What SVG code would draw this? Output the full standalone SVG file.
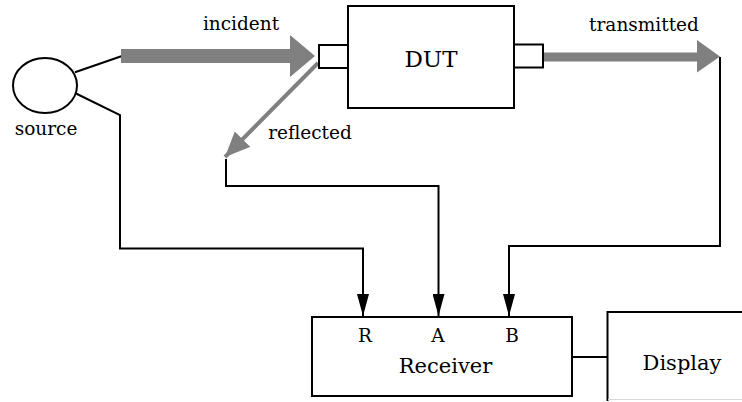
<svg xmlns="http://www.w3.org/2000/svg" width="742" height="402" viewBox="0 0 742 402">
  <style>
    .box { fill: #ffffff; stroke: #000000; stroke-width: 2; }
    .wire { fill: none; stroke: #000000; stroke-width: 2; }
    .wave { fill: #808080; stroke: none; }
    .lbl { font-family: "DejaVu Serif", "Liberation Serif", serif; fill: #000000; }
    .small { font-size: 18.5px; }
    .big { font-size: 21px; }
  </style>
  <defs>
    <marker id="tip" markerUnits="userSpaceOnUse" markerWidth="22" markerHeight="12" refX="22" refY="6" orient="auto" viewBox="0 0 22 12">
      <path d="M0,0 L22,6 L0,12 Z" fill="#000000"/>
    </marker>
    <marker id="greytip" markerUnits="userSpaceOnUse" markerWidth="26" markerHeight="22" refX="25" refY="11" orient="auto" viewBox="0 0 26 22">
      <path d="M0,0 L25,11 L0,22 Z" fill="#808080"/>
    </marker>
  </defs>

  <rect width="742" height="402" fill="#ffffff"/>

  <!-- signal paths -->
  <g id="connectors">
    <!-- source to incident wave -->
    <line class="wire" x1="75" y1="72.3" x2="122" y2="56"/>
    <!-- incident wave -->
    <path class="wave" d="M121,49 L290,49 L290,35 L315,56 L290,77 L290,63 L121,63 Z"/>
    <!-- transmitted wave -->
    <path class="wave" d="M543,52.5 L697,52.5 L697,40 L720,56.5 L697,72.5 L697,61.5 L543,61.5 Z"/>
    <!-- reflected wave -->
    <line x1="318" y1="63" x2="225" y2="157" stroke="#808080" stroke-width="4" marker-end="url(#greytip)"/>
    <!-- reference channel R -->
    <path class="wire" d="M76,93.5 L120,115 L120,248.5 L363,248.5 L363,316" marker-end="url(#tip)"/>
    <!-- reflected channel A -->
    <path class="wire" d="M226,159 L226,186 L438.5,186 L438.5,316" marker-end="url(#tip)"/>
    <!-- transmitted channel B -->
    <path class="wire" d="M720,57 L720,246 L509,246 L509,316" marker-end="url(#tip)"/>
    <!-- receiver to display -->
    <line class="wire" x1="572" y1="357" x2="607" y2="357"/>
  </g>

  <g id="source">
    <ellipse class="box" cx="45" cy="85.5" rx="32" ry="27.5"/>
    <text class="lbl small" x="46" y="135" text-anchor="middle">source</text>
  </g>

  <g id="labels">
    <text class="lbl small" x="241" y="30" text-anchor="middle">incident</text>
    <text class="lbl small" x="310" y="139" text-anchor="middle">reflected</text>
    <text class="lbl small" x="644" y="31" text-anchor="middle">transmitted</text>
  </g>

  <g id="dut">
    <rect class="box" x="348" y="6" width="166" height="102"/>
    <rect class="box" x="319" y="45" width="29" height="23"/>
    <rect class="box" x="514" y="44.5" width="29" height="23"/>
    <text class="lbl" font-size="23" x="431" y="67" text-anchor="middle">DUT</text>
  </g>

  <g id="receiver">
    <rect class="box" x="312" y="317" width="260" height="79"/>
    <text class="lbl small" x="365" y="342" text-anchor="middle">R</text>
    <text class="lbl small" x="438" y="342" text-anchor="middle">A</text>
    <text class="lbl small" x="512" y="342" text-anchor="middle">B</text>
    <text class="lbl big" x="445.5" y="373" text-anchor="middle">Receiver</text>
  </g>

  <g id="display">
    <path d="M607.5,401 L607.5,312 L742,312" fill="none" stroke="#000000" stroke-width="2"/>
    <line x1="608" y1="399.5" x2="742" y2="399.5" stroke="#d8d8d8" stroke-width="1"/>
    <text class="lbl big" x="682" y="370" text-anchor="middle">Display</text>
  </g>
</svg>
